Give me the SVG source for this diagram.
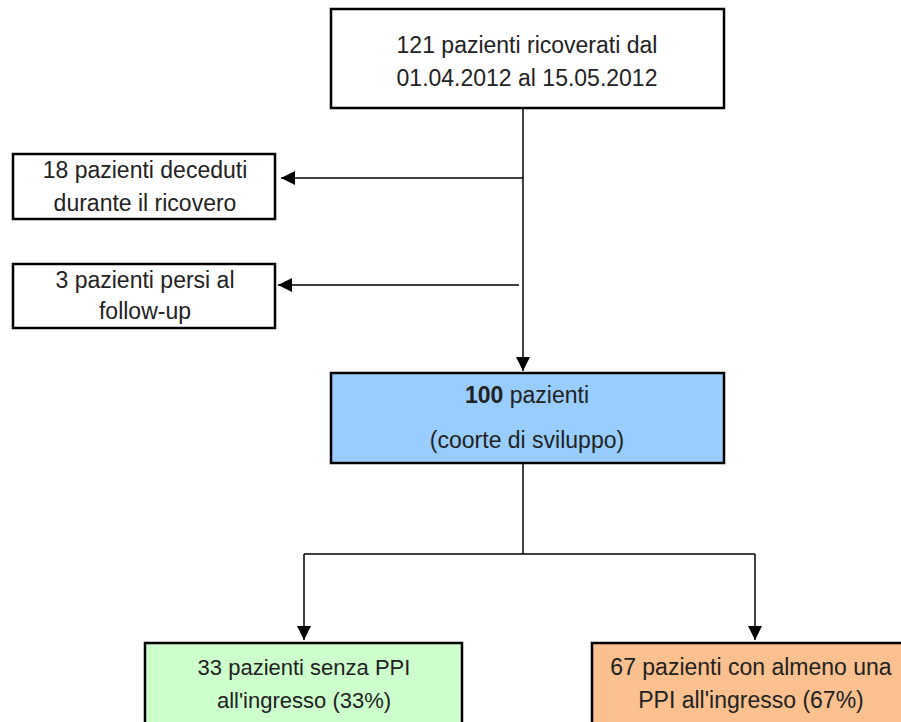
<svg xmlns="http://www.w3.org/2000/svg" width="901" height="722" viewBox="0 0 901 722">
<style>
.box{stroke:#000;stroke-width:2.5}
.t{font-family:"Liberation Sans",Arial,sans-serif;font-size:23px;fill:#222;text-anchor:middle}
.c{stroke:#000;stroke-width:1.5;fill:none}
</style>
<defs>
<marker id="ah" viewBox="0 0 10 10" refX="10" refY="5" markerWidth="14" markerHeight="14" markerUnits="userSpaceOnUse" orient="auto">
<path d="M0,0 L10,5 L0,10 z" fill="#000"/>
</marker>
</defs>
<rect width="901" height="722" fill="#fff"/>
<g id="connectors">
<line class="c" x1="523" y1="108" x2="523" y2="371" marker-end="url(#ah)"/>
<line class="c" x1="523" y1="178" x2="281" y2="178" marker-end="url(#ah)"/>
<line class="c" x1="519" y1="285" x2="278" y2="285" marker-end="url(#ah)"/>
<polyline class="c" points="523,463 523,554"/>
<polyline class="c" points="304,554 755,554"/>
<line class="c" x1="304" y1="554" x2="304" y2="640" marker-end="url(#ah)"/>
<line class="c" x1="755" y1="554" x2="755" y2="640" marker-end="url(#ah)"/>
</g>
<g id="n_top">
<rect class="box" x="331" y="9" width="393" height="99" fill="#fff"/>
<text class="t" x="527" y="53">121 pazienti ricoverati dal</text>
<text class="t" x="527" y="86">01.04.2012 al 15.05.2012</text>
</g>
<g id="n_deceduti">
<rect class="box" x="13" y="154" width="262" height="65" fill="#fff"/>
<text class="t" x="145" y="178">18 pazienti deceduti</text>
<text class="t" x="145" y="211">durante il ricovero</text>
</g>
<g id="n_persi">
<rect class="box" x="13" y="264" width="262" height="64" fill="#fff"/>
<text class="t" x="145" y="288">3 pazienti persi al</text>
<text class="t" x="145" y="319">follow-up</text>
</g>
<g id="n_coorte">
<rect class="box" x="331" y="373" width="393" height="90" fill="#99CCFF"/>
<text class="t" x="527" y="403"><tspan font-weight="bold">100</tspan> pazienti</text>
<text class="t" x="527" y="448">(coorte di sviluppo)</text>
</g>
<g id="n_senza">
<rect class="box" x="145" y="643" width="317" height="85" fill="#CCFFCC"/>
<text class="t" x="304" y="675" style="font-size:22px">33 pazienti senza PPI</text>
<text class="t" x="304" y="708" style="font-size:22px">all'ingresso (33%)</text>
</g>
<g id="n_con">
<rect class="box" x="592" y="643" width="326" height="85" fill="#FAC090"/>
<text class="t" x="751" y="675">67 pazienti con almeno una</text>
<text class="t" x="751" y="708">PPI all'ingresso (67%)</text>
</g>
</svg>
